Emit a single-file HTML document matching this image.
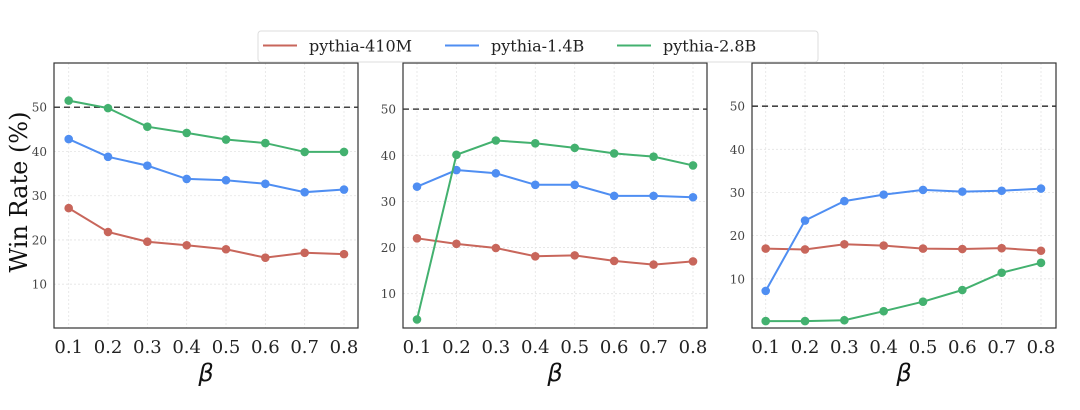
<!DOCTYPE html>
<html><head><meta charset="utf-8"><style>
body{margin:0;background:#fff;}
svg{display:block;}
</style></head><body>
<svg id="c" width="1080" height="410" xmlns="http://www.w3.org/2000/svg"></svg>
<script>
const betas=["0.1","0.2","0.3","0.4","0.5","0.6","0.7","0.8"];
const yTicks=[10,20,30,40,50];
const seriesNames=["pythia-410M","pythia-1.4B","pythia-2.8B"];
const colors=["#c8665b","#4f8ef2","#43b16f"];
const p1Red=[27.2,21.8,19.6,18.8,17.9,16.0,17.1,16.8];
const p1Blue=[42.8,38.8,36.8,33.8,33.5,32.7,30.8,31.4];
const p1Green=[51.5,49.8,45.6,44.2,42.7,41.9,39.9,39.9];
const p2Red=[22.0,20.8,19.9,18.1,18.3,17.1,16.3,17.0];
const p2Blue=[33.2,36.8,36.1,33.6,33.6,31.2,31.2,30.9];
const p2Green=[4.4,40.1,43.2,42.6,41.6,40.4,39.7,37.8];
const p3Red=[17.0,16.8,18.0,17.7,17.0,16.9,17.1,16.5];
const p3Blue=[7.2,23.5,28.0,29.5,30.6,30.2,30.4,30.9];
const p3Green=[0.2,0.2,0.4,2.5,4.7,7.4,11.4,13.7];
const refLine=50;
{
const svg=document.getElementById('c');
const NS="http://www.w3.org/2000/svg";
const SERIF='DejaVu Serif, Liberation Serif, serif';
function mk(tag,attrs,parent){const e=document.createElementNS(NS,tag);for(const k in attrs)e.setAttribute(k,attrs[k]);(parent||svg).appendChild(e);return e;}

const panels=[
 {x0:54,x1:358,xa:68.7,xb:344,ymin:0.1,ymax:60,data:[p1Red,p1Blue,p1Green]},
 {x0:403,x1:707,xa:417,xb:693,ymin:2.56,ymax:60,data:[p2Red,p2Blue,p2Green]},
 {x0:752,x1:1056,xa:765.7,xb:1041,ymin:-1.4,ymax:60,data:[p3Red,p3Blue,p3Green]}
];
const yTop=63,yBot=328;
panels.forEach((p,pi)=>{
 const g=mk('g',{});
 
 
 const xs=i=>p.xa+(p.xb-p.xa)*i/(betas.length-1);
 const ys=v=>yBot-(v-p.ymin)/(p.ymax-p.ymin)*(yBot-yTop);
 betas.forEach((b,i)=>{
  const l=mk('line',{x1:xs(i),x2:xs(i),y1:yTop,y2:yBot,stroke:'#e3e3e3','stroke-width':0.8,'stroke-dasharray':'2,2'},g);
  
  
  const t=mk('text',{x:xs(i),y:353,'text-anchor':'middle','font-family':SERIF,'font-size':18,fill:'#222'},g);
  t.textContent=b;
  
  
 });
 yTicks.forEach(v=>{
  const y=ys(v);
  const l=mk('line',{x1:p.x0,x2:p.x1,y1:y,y2:y,stroke:'#e3e3e3','stroke-width':0.8,'stroke-dasharray':'2,2'},g);
  
  
  const t=mk('text',{x:p.x0-7,y:y+4.5,'text-anchor':'end','font-family':SERIF,'font-size':12,fill:'#444'},g);
  t.textContent=v;
  
  
 });
 const r=mk('line',{x1:p.x0,x2:p.x1,y1:ys(refLine),y2:ys(refLine),stroke:'#444','stroke-width':1.6,'stroke-dasharray':'6,4'},g);
 
 
 p.data.forEach((arr,si)=>{
  const pts=arr.map((v,i)=>xs(i)+','+ys(v)).join(' ');
  const pl=mk('polyline',{points:pts,fill:'none',stroke:colors[si],'stroke-width':2},g);
  
  
  arr.forEach((v,i)=>{
   const c=mk('circle',{cx:xs(i),cy:ys(v),r:4.3,fill:colors[si]},g);
   
   
  });
 });
 const box=mk('rect',{x:p.x0,y:yTop,width:p.x1-p.x0,height:yBot-yTop,fill:'none',stroke:'#333','stroke-width':1.2},g);
 
 
 const xl=mk('text',{x:(p.x0+p.x1)/2,y:381,'text-anchor':'middle','font-family':'DejaVu Sans, sans-serif','font-style':'italic','font-size':24,fill:'#111'},g);
 xl.textContent='β';
 
 
});
const yl=mk('text',{x:0,y:0,transform:'translate(27,192) rotate(-90)','text-anchor':'middle','font-family':SERIF,'font-size':24,fill:'#111'});
yl.textContent='Win Rate (%)';


const lg=mk('g',{});


mk('rect',{x:258,y:31,width:560,height:31,rx:3,fill:'#fff',stroke:'#ddd','stroke-width':1},lg);
const lx=[263,445,617];
seriesNames.forEach((n,i)=>{
 const e=mk('g',{},lg);
 
 
 mk('line',{x1:lx[i],x2:lx[i]+34,y1:45.5,y2:45.5,stroke:colors[i],'stroke-width':2},e);
 const t=mk('text',{x:lx[i]+46,y:51.5,'font-family':SERIF,'font-size':16,fill:'#222'},e);
 t.textContent=n;
});
}
</script>
</body></html>
